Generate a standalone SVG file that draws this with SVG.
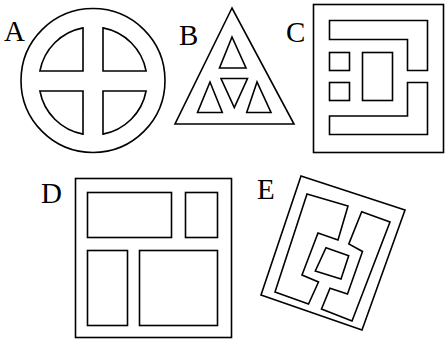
<svg xmlns="http://www.w3.org/2000/svg" width="445" height="340" viewBox="0 0 445 340">
<style>
.s{fill:none;stroke:#000;stroke-width:1.6;stroke-linejoin:miter}
.l{font-family:"Liberation Serif","DejaVu Serif",serif;font-size:29px;fill:#000}
</style>
<rect width="445" height="340" fill="#fff"/>
<g id="A">
<text class="l" x="4" y="41">A</text>
<circle class="s" cx="93" cy="80.5" r="72"/>
<path class="s" d="M83,71 L83,27.9 A54,54 0 0 0 39.9,71 Z"/>
<path class="s" d="M103,71 L103,27.9 A54,54 0 0 1 146.1,71 Z"/>
<path class="s" d="M83,91 L83,134.1 A54,54 0 0 1 39.9,91 Z"/>
<path class="s" d="M103,91 L103,134.1 A54,54 0 0 0 146.1,91 Z"/>
</g>
<g id="B">
<text class="l" x="179" y="45">B</text>
<polygon class="s" points="232,8 175,124 294,124"/>
<polygon class="s" points="232,37 219.5,68 246,68"/>
<polygon class="s" points="221,78.5 247.5,78.5 234.3,107.5"/>
<polygon class="s" points="210,82 197.5,112.5 222.3,112.5"/>
<polygon class="s" points="257,82 246.7,112.5 271,112.5"/>
</g>
<g id="C">
<text class="l" x="286" y="42">C</text>
<rect class="s" x="313.5" y="4.5" width="130" height="148"/>
<polygon class="s" points="329.5,20.5 427.5,20.5 427.5,70.5 407.5,70.5 407.5,39.5 329.5,39.5"/>
<polygon class="s" points="329.5,116 407.5,116 407.5,82.5 427.5,82.5 427.5,134.5 329.5,134.5"/>
<rect class="s" x="329.5" y="52.5" width="20" height="18"/>
<rect class="s" x="329.5" y="82.5" width="20" height="18"/>
<rect class="s" x="362.5" y="52.5" width="30" height="48"/>
</g>
<g id="D">
<text class="l" x="41" y="203">D</text>
<rect class="s" x="75.5" y="178.5" width="156" height="159"/>
<rect class="s" x="87.5" y="192.5" width="84" height="45"/>
<rect class="s" x="185.5" y="192.5" width="32" height="45"/>
<rect class="s" x="87.5" y="250.5" width="40" height="75"/>
<rect class="s" x="139.5" y="250.5" width="78" height="75"/>
</g>
<g id="E">
<text class="l" x="257" y="199">E</text>
<polygon class="s" points="301,176 405,210 362,330 261,295"/>
<polygon class="s" points="307,194 348,206 338,240 318,233 302,275 318.5,282 308.5,304 275,292"/>
<polygon class="s" points="361.7,211.7 390,222 352,321 321.5,309 330,288.3 347.5,294 362.5,251.5 348.8,244"/>
<polygon class="s" points="326,247.7 348.7,255.7 341,279 315.3,271"/>
</g>
</svg>
